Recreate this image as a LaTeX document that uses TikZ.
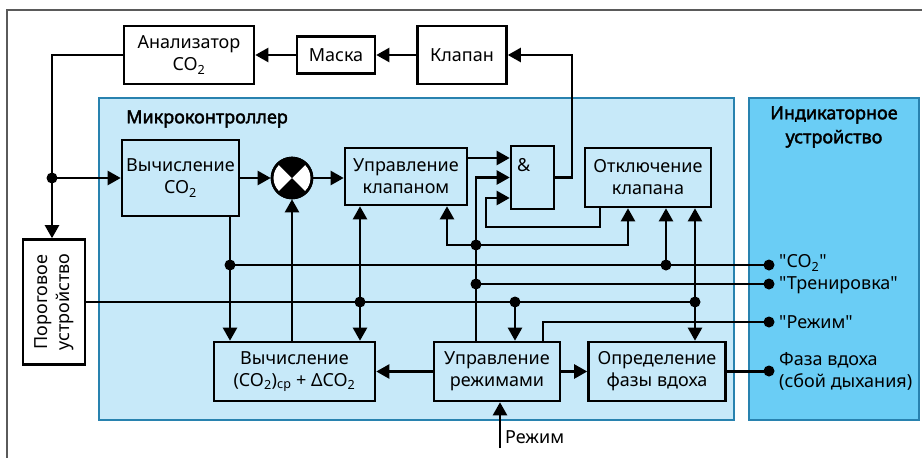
\documentclass[tikz,border=0pt]{standalone}
\usepackage{fontspec}
\setmainfont{Noto Sans}[Ligatures=TeXOff]
\newfontfamily\titlefont{Noto Sans}[Ligatures=TeXOff,FakeBold=2.2]
\usetikzlibrary{arrows.meta,calc}
\definecolor{mcfill}{RGB}{199,233,249}
\definecolor{mcline}{RGB}{40,130,175}
\definecolor{indfill}{RGB}{106,205,245}
\definecolor{framegray}{RGB}{90,90,90}
\begin{document}
\begin{tikzpicture}[x=1pt,y=-1pt,
  txt/.style={font=\fontsize{18}{22}\selectfont},
  ttl/.style={inner sep=0pt,font=\titlefont\fontsize{18}{24}\selectfont},
  blk/.style={draw=black,line width=2.6pt,inner sep=0pt,align=center,txt},
  con/.style={line width=2.4pt},
  arr/.style={con,-{Triangle[length=13pt,width=14pt]}},
  arrb/.style={con,{Triangle[length=13pt,width=14pt]}-{Triangle[length=13pt,width=14pt]}},
  dot/.style={circle,fill=black,inner sep=0pt,minimum size=11pt}]
\useasboundingbox (0,0) rectangle (922,458);
% outer frame
\draw[framegray,line width=1.3pt] (7,458) -- (7,10) -- (922,10);
% big regions
\draw[mcline,fill=mcfill,line width=1.2pt] (99,98) rectangle (734,420);
\draw[mcline,fill=indfill,line width=1.2pt] (749,98) rectangle (919,420);
\node[ttl,anchor=west] (mctitle) at (126,119) {Микроконтроллер};
\node[ttl,align=center] (indtitle) at (834,127) {Индикаторное\\устройство};
% coordinates for buses
\foreach \v in {52,230,292,360,447,476,486,500,515,543,572,600,628,666,695,769}{\coordinate (x\v) at (\v,0);}
\foreach \v in {158,198,227,245,265,284,302,322}{\coordinate (h\v) at (0,\v);}
% blocks
\node[blk,fill=white,minimum width=130pt,minimum height=58pt] (anal) at (189,55) {Анализатор\\CO\textsubscript{2}};
\node[blk,fill=white,minimum width=78pt,minimum height=37pt] (mask) at (336,55) {Маска};
\node[blk,fill=white,minimum width=89pt,minimum height=58pt] (klap) at (462,55) {Клапан};
\node[blk,fill=white,rotate=90,minimum width=125pt,minimum height=62pt] (por) at (54,302) {Пороговое\\устройство};
\node[blk,minimum width=117pt,minimum height=76pt] (vco2) at (180.5,178) {Вычисление\\CO\textsubscript{2}};
\node[circle,draw=black,fill=white,line width=2.6pt,minimum size=40pt,inner sep=0pt] (mult) at (292,178) {};
\fill (mult.center) -- ($(mult.center)+(45:20pt)$) arc[start angle=45,end angle=135,radius=20pt] -- cycle;
\fill (mult.center) -- ($(mult.center)+(225:20pt)$) arc[start angle=225,end angle=315,radius=20pt] -- cycle;
\draw[line width=2.6pt] (mult.center) circle[radius=20pt];
\node[blk,minimum width=122pt,minimum height=57pt] (uk) at (406,176.5) {Управление\\клапаном};
\node[blk,minimum width=43pt,minimum height=63pt] (andg) at (532.5,177.5) {};
\node[txt,anchor=north west,inner sep=0pt] (andl) at (517,158) {\&};
\node[blk,minimum width=126pt,minimum height=59pt] (otk) at (648,177.5) {Отключение\\клапана};
\node[blk,minimum width=161pt,minimum height=59pt] (vcp) at (294.5,371.5) {Вычисление\\(CO\textsubscript{2})\textsubscript{ср} + ΔCO\textsubscript{2}};
\node[blk,minimum width=126pt,minimum height=59pt] (ur) at (497,371.5) {Управление\\режимами};
\node[blk,minimum width=137pt,minimum height=59pt] (opf) at (657,371.5) {Определение\\фазы вдоха};
\coordinate (rin) at (500,448);
\node[txt,anchor=west,inner sep=0pt] (rlbl) at (505,437) {Режим};
% indicator labels
\node[txt,anchor=west,inner sep=0pt] (lco2) at (779,263) {"CO\textsubscript{2}"};
\node[txt,anchor=west,inner sep=0pt] (ltr) at (779,285) {"Тренировка"};
\node[txt,anchor=west,inner sep=0pt] (lrej) at (779,322) {"Режим"};
\node[txt,anchor=west,inner sep=0pt,align=left] (lfaz) at (779,371) {Фаза вдоха\\(сбой дыхания)};
% connectors
\draw[arr] (klap.west) -- (mask.east);
\draw[arr] (mask.west) -- (anal.east);
\draw[arr] (anal.west) -- (anal.west -| x52) -- (por.east -| x52);
\draw[arr] (vco2.west -| x52) -- (vco2.west);
\draw[arr] (vco2.east) -- (mult.west);
\draw[arr] (mult.east) -- (mult.east -| uk.west);
\draw[arr] (uk.east |- h158) -- (andg.west |- h158);
\draw[arr] (andg.east) -- (andg.east -| x572) -- (klap.east -| x572) -- (klap.east);
\draw[arr] (ur.north -| x476) -- (x476 |- andg.west) -- (andg.west);
\draw[arr] (otk.south -| x600) -- (x600 |- h227) -- (x486 |- h227) -- (x486 |- h198) -- (andg.west |- h198);
\draw[arr] (x476 |- h245) -- (x447 |- h245) -- (uk.south -| x447);
\draw[arr] (x476 |- h245) -- (x628 |- h245) -- (otk.south -| x628);
\draw[arr] (vco2.south -| x230) -- (vcp.north -| x230);
\draw[con] (x230 |- h265) -- (x769 |- h265);
\draw[arr] (x666 |- h265) -- (otk.south -| x666);
\draw[con] (x476 |- h284) -- (x769 |- h284);
\draw[con] (por.south) -- (por.south -| x695);
\draw[arrb] (uk.south -| x360) -- (vcp.north -| x360);
\draw[arr] (x515 |- h302) -- (ur.north -| x515);
\draw[arrb] (otk.south -| x695) -- (opf.north -| x695);
\draw[arr] (vcp.north -| x292) -- (mult.south);
\draw[arr] (ur.west) -- (vcp.east);
\draw[arr] (ur.east) -- (opf.west);
\draw[con] (ur.north -| x543) -- (x543 |- h322) -- (x769 |- h322);
\draw[con] (opf.east) -- (opf.east -| x769);
\draw[arr] (rin) -- (ur.south -| rin);
% junction dots
\foreach \p in {(52,178),(230,265),(360,302),(476,245),(476,284),(515,302),(666,265),(695,302),(769,265),(769,284),(769,322),(769,371)}
  \node[dot] at \p {};
\end{tikzpicture}
\end{document}
